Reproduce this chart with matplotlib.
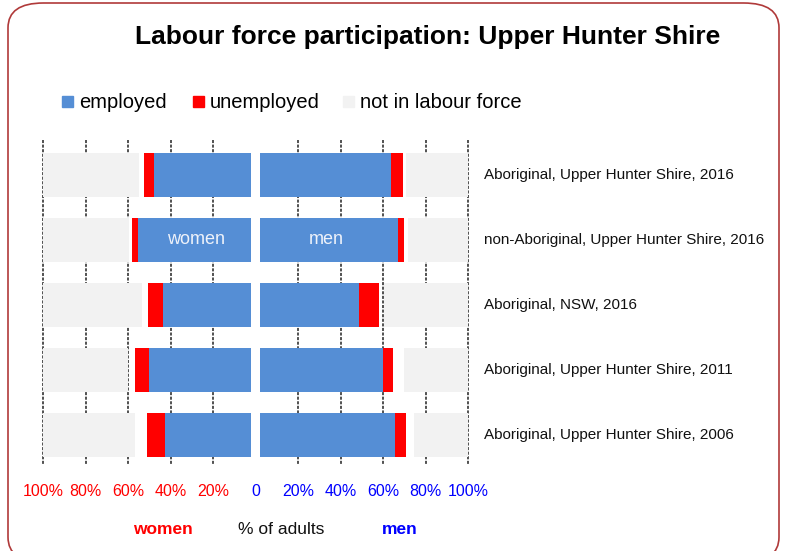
import matplotlib
matplotlib.use('Agg')
import matplotlib.pyplot as plt
import matplotlib.transforms as mtransforms
from matplotlib.patches import Rectangle, FancyBboxPatch

plt.rcParams['font.family'] = ['Liberation Sans', 'DejaVu Sans']

# rows, top to bottom
groups = ['Aboriginal, Upper Hunter Shire, 2016',
          'non-Aboriginal, Upper Hunter Shire, 2016',
          'Aboriginal, NSW, 2016',
          'Aboriginal, Upper Hunter Shire, 2011',
          'Aboriginal, Upper Hunter Shire, 2006']

# % of adults
women_employed = [45.6, 53.3, 41.6, 48.3, 40.5]
women_unemployed = [5.0, 2.8, 7.2, 6.6, 8.5]
women_nilf = [45.0, 40.3, 46.3, 39.7, 43.3]

men_employed = [61.6, 64.9, 46.3, 57.7, 63.2]
men_unemployed = [5.8, 2.8, 9.4, 4.7, 5.4]
men_nilf = [29.3, 28.5, 39.7, 30.3, 25.4]

tick_vals = [-100, -80, -60, -40, -20, 0, 20, 40, 60, 80, 100]
tick_labels = ['100%', '80%', '60%', '40%', '20%', '0', '20%', '40%', '60%', '80%', '100%']

c_emp = '#558ED5'
c_unemp = '#FF0000'
c_nilf = '#F2F2F2'
gap = 2.1  # white gap around the centre line

W, H = 786, 551
fig = plt.figure(figsize=(W / 100, H / 100), dpi=100)

# rounded border
fig.patches.append(FancyBboxPatch((8 / W, 1 - 562 / H), 771 / W, 559 / H,
                                  boxstyle='round,pad=0,rounding_size=0.045',
                                  transform=fig.transFigure, fill=False,
                                  edgecolor='#B03A3A', lw=1.2))

ax = fig.add_axes([43.3 / W, (H - 467.5) / H, 425 / W, 325 / H])
ax.set_xlim(-100, 100)
ax.set_ylim(4.5, -0.5)
ax.axis('off')

y = list(range(len(groups)))
h = 0.68

# dashed gridlines
grid_x = [v for v in tick_vals if v != 0]
ax.vlines(grid_x, -0.54, 4.46, colors='#222222', linestyles=(0, (2, 1)),
          lw=1.1, zorder=0, clip_on=False)

# women (left)
ax.barh(y, [-v for v in women_employed], left=-gap, height=h, color=c_emp, zorder=2)
ax.barh(y, [-v for v in women_unemployed],
        left=[-gap - e for e in women_employed], height=h, color=c_unemp, zorder=2)
ax.barh(y, women_nilf, left=-100, height=h, color=c_nilf, zorder=1)

# men (right)
ax.barh(y, men_employed, left=gap, height=h, color=c_emp, zorder=2)
ax.barh(y, men_unemployed, left=[gap + e for e in men_employed],
        height=h, color=c_unemp, zorder=2)
ax.barh(y, men_nilf, left=[100 - v for v in men_nilf], height=h, color=c_nilf, zorder=1)

ax.text(-28, 1, 'women', color='#EEF2FA', fontsize=13, ha='center', va='center', zorder=3)
ax.text(33, 1, 'men', color='#EEF2FA', fontsize=13, ha='center', va='center', zorder=3)

# x tick labels
tr = mtransforms.blended_transform_factory(ax.transData, fig.transFigure)
for v, lab in zip(tick_vals, tick_labels):
    col = '#FF0000' if v < 0 else '#0000FF'
    ax.text(v, 1 - 491 / H, lab, transform=tr, color=col, fontsize=11.5,
            ha='center', va='center', clip_on=False)

# row labels
tr2 = mtransforms.blended_transform_factory(fig.transFigure, ax.transData)
for i, g in enumerate(groups):
    ax.text(484 / W, i, g, transform=tr2, fontsize=11, ha='left', va='center',
            color='#111111', clip_on=False)

# title
fig.text(428 / W, 1 - 37 / H, 'Labour force participation: Upper Hunter Shire',
         fontsize=19, fontweight='bold', ha='center', va='center')

# legend
legend_items = [(62, c_emp, 'employed'), (193, c_unemp, 'unemployed'),
                (343, c_nilf, 'not in labour force')]
for x0, col, lab in legend_items:
    fig.patches.append(Rectangle((x0 / W, 1 - 107 / H), 11 / W, 11 / H,
                                 transform=fig.transFigure, color=col))
    fig.text((x0 + 17) / W, 1 - 102 / H, lab, fontsize=14.5, ha='left', va='center')

# bottom labels
fig.text(163 / W, 1 - 530 / H, 'women', color='#FF0000', fontsize=12.5,
         fontweight='bold', ha='center', va='center')
fig.text(281 / W, 1 - 530 / H, '% of adults', color='#111111', fontsize=12.5,
         ha='center', va='center')
fig.text(400 / W, 1 - 530 / H, 'men', color='#0000FF', fontsize=12.5,
         fontweight='bold', ha='center', va='center')

fig.savefig('out.png', dpi=100)
